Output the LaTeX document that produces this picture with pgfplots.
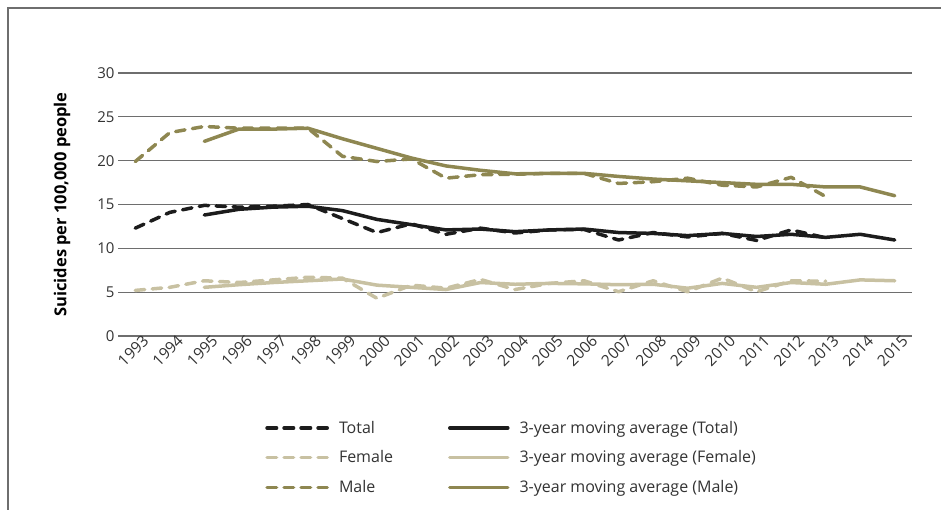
\documentclass[border=0pt]{standalone}
\usepackage{pgfplots}
\pgfplotsset{compat=1.18}
\usepackage{fontspec}
\setmainfont{Open Sans}
\definecolor{totc}{HTML}{1C1C1C}
\definecolor{femc}{HTML}{C8C1A2}
\definecolor{malc}{HTML}{8E8751}
\definecolor{gridc}{HTML}{6E6E6E}
\definecolor{txtc}{HTML}{333333}
\begin{document}
\begin{tikzpicture}[x=1bp,y=1bp]
\useasboundingbox (0,0) rectangle (941,510);
\draw[gridc, line width=1.2bp] (8,0) -- (8,502) -- (941,502);
\begin{axis}[
  at={(118bp,174bp)}, anchor=south west,
  scale only axis, width=794bp, height=263bp,
  xmin=1992.5, xmax=2015.5, ymin=0, ymax=30,
  xtick={1993,...,2015}, ytick={0,5,...,30},
  ymajorgrids, major grid style={gridc, line width=1.1bp},
  axis line style={draw=none}, tick style={draw=none},
  /pgf/number format/assume math mode=true,
  /pgf/number format/1000 sep={},
  tick label style={font=\fontsize{15bp}{18bp}\selectfont, text=txtc},
  yticklabel style={xshift=0bp},
  xticklabel style={rotate=45, anchor=north east, inner sep=1bp, xshift=7bp, yshift=-2bp, font=\fontsize{15.5bp}{18bp}\selectfont},
  ylabel={\bfseries Suicides per 100,000 people},
  ylabel style={at={(axis description cs:-0.0705,0.5)}, anchor=center, font=\fontsize{16.5bp}{19bp}\selectfont, text=black},
  legend columns=3, transpose legend,
  legend style={draw=none, at={(rel axis cs:0.1815,-0.308)}, anchor=north west,
    font=\fontsize{16bp}{19bp}\selectfont, text=txtc, row sep=12bp,
    /tikz/every odd column/.append style={column sep=8bp},
    /tikz/every even column/.append style={column sep=53bp}},
  legend cell align=left,
  legend image code/.code={\draw[#1] (1.8bp,0bp) -- (62bp,0bp);},
  every axis plot/.append style={line width=3.5bp, line cap=round, line join=round},
  dsh/.style={dash pattern=on 9.5bp off 7.5bp},
  ma/.style={legend image code/.code={\draw[##1] (1.8bp,0bp) -- (55bp,0bp); \path (0,0) -- (58bp,0bp);}},
]
\addplot[totc, dsh] coordinates {(1993,12.3) (1994,14.1) (1995,14.9) (1996,14.7) (1997,14.8) (1998,15.0) (1999,13.4) (2000,11.8) (2001,12.8) (2002,11.6) (2003,12.3) (2004,11.75) (2005,12.1) (2006,12.15) (2007,10.95) (2008,11.8) (2009,11.3) (2010,11.7) (2011,10.9) (2012,12.1) (2013,11.2)};
\addlegendentry{Total}
\addplot[femc, dsh] coordinates {(1993,5.2) (1994,5.55) (1995,6.3) (1996,6.1) (1997,6.4) (1998,6.7) (1999,6.6) (2000,4.3) (2001,5.8) (2002,5.45) (2003,6.45) (2004,5.3) (2005,6.0) (2006,6.3) (2007,5.05) (2008,6.3) (2009,5.05) (2010,6.6) (2011,5.05) (2012,6.3) (2013,6.25)};
\addlegendentry{Female}
\addplot[malc, dsh] coordinates {(1993,19.9) (1994,23.2) (1995,23.9) (1996,23.7) (1997,23.7) (1998,23.7) (1999,20.5) (2000,19.9) (2001,20.2) (2002,18.0) (2003,18.4) (2004,18.45) (2005,18.55) (2006,18.55) (2007,17.4) (2008,17.6) (2009,18.0) (2010,17.2) (2011,17.0) (2012,18.1) (2013,15.9)};
\addlegendentry{Male}
\addplot[totc, ma] coordinates {(1995,13.8) (1996,14.45) (1997,14.7) (1998,14.8) (1999,14.3) (2000,13.3) (2001,12.7) (2002,12.1) (2003,12.2) (2004,11.9) (2005,12.1) (2006,12.2) (2007,11.8) (2008,11.7) (2009,11.45) (2010,11.7) (2011,11.35) (2012,11.6) (2013,11.25) (2014,11.6) (2015,10.95)};
\addlegendentry{3-year moving average (Total)}
\addplot[femc, ma] coordinates {(1995,5.55) (1996,5.85) (1997,6.1) (1998,6.3) (1999,6.5) (2000,5.8) (2001,5.55) (2002,5.3) (2003,6.1) (2004,5.9) (2005,6.0) (2006,5.95) (2007,5.85) (2008,5.9) (2009,5.45) (2010,6.0) (2011,5.55) (2012,6.1) (2013,5.9) (2014,6.4) (2015,6.3)};
\addlegendentry{3-year moving average (Female)}
\addplot[malc, ma] coordinates {(1995,22.2) (1996,23.6) (1997,23.6) (1998,23.7) (1999,22.5) (2000,21.4) (2001,20.3) (2002,19.4) (2003,18.9) (2004,18.5) (2005,18.55) (2006,18.55) (2007,18.2) (2008,17.9) (2009,17.7) (2010,17.5) (2011,17.3) (2012,17.3) (2013,17.0) (2014,17.0) (2015,16.0)};
\addlegendentry{3-year moving average (Male)}
\end{axis}
\end{tikzpicture}
\end{document}
